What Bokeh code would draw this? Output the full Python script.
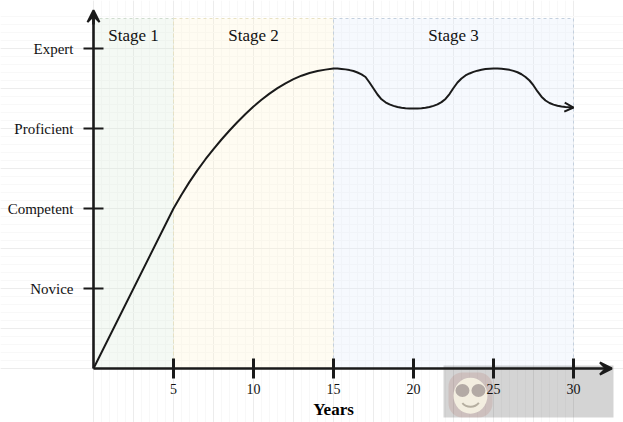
from bokeh.core.properties import value
from bokeh.embed import file_html
from bokeh.models import Arrow, OpenHead, Range1d, SingleIntervalTicker, VeeHead, FixedTicker
from bokeh.plotting import figure
from bokeh.resources import INLINE

# curve, years vs skill level
years = [0, 5, 5.5, 6, 6.5, 7, 7.5, 8, 8.5, 9, 9.5, 10, 10.5, 11, 11.5, 12, 12.5, 13, 13.5, 14, 14.5, 15,
         15.25, 15.5, 15.75, 16, 16.25, 16.5, 16.75, 17, 17.25, 17.5, 17.75, 18, 18.25, 18.5, 18.75, 19, 19.25, 19.5, 19.75, 20,
         20.25, 20.5, 20.75, 21, 21.25, 21.5, 21.75, 22, 22.25, 22.5, 22.75, 23, 23.25, 23.5, 23.75, 24, 24.25, 24.5, 24.75, 25,
         25.25, 25.5, 25.75, 26, 26.25, 26.5, 26.75, 27, 27.25, 27.5, 27.75, 28, 28.25, 28.5, 28.75, 29, 29.25, 29.5, 29.75, 30]
skill = [0, 2.0, 2.1725, 2.3325, 2.48, 2.616, 2.7425, 2.8625, 2.975, 3.081, 3.181, 3.274, 3.359, 3.436, 3.505, 3.565, 3.6175, 3.66, 3.694, 3.719, 3.736, 3.75,
         3.749, 3.745, 3.739, 3.73, 3.718, 3.7, 3.676, 3.644, 3.575, 3.5, 3.425, 3.365, 3.328, 3.301, 3.283, 3.269, 3.259, 3.253, 3.25, 3.25,
         3.25, 3.253, 3.259, 3.269, 3.283, 3.301, 3.33, 3.369, 3.431, 3.506, 3.575, 3.625, 3.663, 3.688, 3.708, 3.723, 3.734, 3.743, 3.748, 3.75,
         3.749, 3.746, 3.741, 3.733, 3.72, 3.703, 3.678, 3.644, 3.6, 3.538, 3.463, 3.398, 3.35, 3.319, 3.298, 3.284, 3.275, 3.269, 3.265, 3.2625]

stage_names = ["Stage 1", "Stage 2", "Stage 3"]
stage_start = [0, 5, 15]
stage_end = [5, 15, 30]
stage_top = 4.375
stage_fill = ["#d5e8d4", "#fff2cc", "#dae8fc"]
stage_edge = ["#d0dccf", "#e8e2c4", "#c4d0de"]

year_ticks = [5, 10, 15, 20, 25, 30]
level_ticks = [1, 2, 3, 4]
level_names = ["Novice", "Competent", "Proficient", "Expert"]

p = figure(width=623, height=422, output_backend="svg", toolbar_location=None,
           x_range=Range1d(-93 / 16, 530 / 16), y_range=Range1d(-54 / 80, 368 / 80),
           min_border=0, outline_line_color=None)

# drawing-paper grid behind everything
p.xgrid.ticker = SingleIntervalTicker(interval=2.5, num_minor_ticks=5)
p.ygrid.ticker = SingleIntervalTicker(interval=0.5, num_minor_ticks=5)
for g in (p.xgrid, p.ygrid):
    g.grid_line_color = "#ececec"
    g.minor_grid_line_color = "#f8f8f8"

bands = p.quad(left=stage_start, right=stage_end, bottom=0, top=stage_top, fill_color=stage_fill, fill_alpha=0.25,
               line_color=stage_edge, line_width=1)
bands.glyph.line_dash = [3, 3]
p.text(x=[(a + b) / 2 for a, b in zip(stage_start, stage_end)], y=[4.16] * 3, text=stage_names,
       text_font=value("Liberation Serif"), text_font_size="17px", text_align="center", text_baseline="middle",
       text_color="#111111")

p.line(years, skill, line_color="#1a1a1a", line_width=2, line_join="round")
p.add_layout(Arrow(end=OpenHead(size=9, line_color="#1a1a1a", line_width=2), x_start=years[-2], y_start=skill[-2],
                   x_end=years[-1], y_end=skill[-1], line_color="#1a1a1a", line_width=2))

# site watermark in the corner
p.quad(left=[21.875], right=[32.5], bottom=[-0.6125], top=[0.0375], fill_color="#000000", fill_alpha=0.17, line_color=None)
p.quad(left=[22.19], right=[24.94], bottom=[-0.6125], top=[-0.05], fill_color="#a04030", fill_alpha=0.13, line_color=None,
       border_radius=14)
p.ellipse(x=[23.56], y=[-0.34], width=[34], height=[36], width_units="screen", height_units="screen",
          fill_color="#f3eee0", line_color=None)
p.ellipse(x=[23.06, 24.06], y=[-0.275, -0.275], width=[14, 14], height=[13, 13], width_units="screen", height_units="screen",
          fill_color="#b3aaa5", line_color=None)
p.arc(x=[23.56], y=[-0.34], radius=[11], radius_units="screen", start_angle=[-2.4], end_angle=[-0.7], line_color="#b5aea0", line_width=2)

p.xaxis.fixed_location = 0
p.yaxis.fixed_location = 0
p.xaxis.bounds = (0, 30)
p.yaxis.bounds = (0, 4.4)
p.xaxis.ticker = FixedTicker(ticks=year_ticks)
p.yaxis.ticker = FixedTicker(ticks=level_ticks)
p.yaxis.major_label_overrides = dict(zip(level_ticks, level_names))
p.xaxis.axis_label = "Years"
p.xaxis.axis_label_text_font = "Liberation Serif"
p.xaxis.axis_label_text_font_size = "17px"
p.xaxis.axis_label_text_font_style = "bold"
p.xaxis.axis_label_text_color = "#000000"
p.xaxis.axis_label_standoff = 3
p.xaxis.major_label_standoff = 5
p.yaxis.major_label_standoff = 10
for ax in (p.xaxis, p.yaxis):
    ax.axis_line_color = "#1a1a1a"
    ax.axis_line_width = 2.6
    ax.major_tick_line_color = "#1a1a1a"
    ax.minor_tick_line_color = None
    ax.major_tick_in = 10
    ax.major_tick_out = 10
    ax.major_label_text_font = "Liberation Serif"
    ax.major_label_text_color = "#111111"
p.xaxis.major_tick_line_width = 3
p.yaxis.major_tick_line_width = 2
p.xaxis.major_label_text_font_size = "14px"
p.yaxis.major_label_text_font_size = "15px"

# axis arrow heads
for x0, y0, x1, y1 in [(30, 0, 32.4, 0), (0, 4.3, 0, 4.48)]:
    p.add_layout(Arrow(end=VeeHead(size=12, fill_color="#1a1a1a", line_color="#1a1a1a", line_width=2),
                       x_start=x0, y_start=y0, x_end=x1, y_end=y1, line_color="#1a1a1a", line_width=2.6))

open("out.html", "w").write(file_html(p, INLINE))
